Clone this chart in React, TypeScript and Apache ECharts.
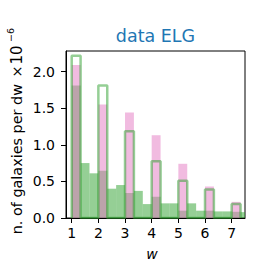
import React, { useEffect, useRef } from "react";
import * as echarts from "echarts";

// Bin edges of the filled histogram (width 1/3)
const binEdges = [
  1, 1.3333, 1.6667, 2, 2.3333, 2.6667, 3, 3.3333, 3.6667, 4, 4.3333, 4.6667,
  5, 5.3333, 5.6667, 6, 6.3333, 6.6667, 7, 7.3333, 7.6667,
];
// Green filled histogram heights (x 10^-6)
const greenFill = [
  1.81, 0.75, 0.61, 0.645, 0.4, 0.45, 0.34, 0.37, 0.19, 0.29, 0.2, 0.2, 0.1,
  0.2, 0.1, 0.1, 0.09, 0.09, 0.085, 0.08,
];
// Discrete w values (pink bars and green outline boxes)
const wValues = [1, 2, 3, 4, 5, 6, 7];
const binWidth = 1 / 3;
const pinkHeights = [2.09, 1.55, 1.44, 1.13, 0.74, 0.43, 0.22];
const boxHeights = [2.215, 1.81, 1.185, 0.775, 0.51, 0.39, 0.19];

const xTicks = [1, 2, 3, 4, 5, 6, 7];
const yTicks = [0, 0.5, 1, 1.5, 2];
const xMin = 0.786;
const xMax = 7.5;
const yMin = 0;
const yMax = 2.28;

const FONT = "DejaVu Sans";
const GREEN = "rgba(44,160,44,0.5)";
const PINK = "rgba(227,119,194,0.5)";

function rectRenderer(color: string) {
  return (params: any, api: any) => {
    const x0 = api.value(0);
    const x1 = api.value(1);
    const h = api.value(2);
    const p0 = api.coord([x0, h]);
    const p1 = api.coord([x1, 0]);
    const cs = params.coordSys;
    const left = Math.max(p0[0], cs.x);
    const right = Math.min(p1[0], cs.x + cs.width);
    return {
      type: "rect",
      shape: { x: left, y: p0[1], width: right - left, height: p1[1] - p0[1] },
      style: { fill: color },
    };
  };
}

function vText(text: string, x: number, y: number, size: number, align = "left") {
  return {
    type: "text",
    x,
    y,
    rotation: Math.PI / 2,
    style: {
      text,
      fill: "#000",
      font: `${size}px "${FONT}"`,
      textAlign: align,
      textVerticalAlign: "middle",
    },
  };
}

export default function App() {
  const ref = useRef<HTMLDivElement>(null);
  useEffect(() => {
    if (!ref.current) return;
    const chart = echarts.init(ref.current, null, { renderer: "svg" });

    const greenData = greenFill.map((h, i) => [binEdges[i], binEdges[i + 1], h]);
    const pinkData = wValues.map((w, i) => [w, w + binWidth, pinkHeights[i]]);
    const stepData: number[][] = [];
    wValues.forEach((w, i) => {
      stepData.push([w, 0], [w, boxHeights[i]], [w + binWidth, boxHeights[i]], [w + binWidth, 0]);
    });

    chart.setOption({
      animation: false,
      backgroundColor: "#fff",
      grid: {
        left: 66,
        top: 51,
        width: 179,
        height: 167,
        show: true,
        borderColor: "#000",
        borderWidth: 1,
        backgroundColor: "transparent",
      },
      xAxis: {
        type: "value",
        min: xMin,
        max: xMax,
        splitLine: { show: false },
        axisLine: { show: true, lineStyle: { color: "#000", width: 1 } },
        axisTick: {
          show: true,
          customValues: xTicks,
          length: 5,
          inside: false,
          lineStyle: { color: "#000", width: 1 },
        },
        axisLabel: {
          customValues: xTicks,
          fontFamily: FONT,
          fontSize: 14,
          color: "#000",
          margin: 8,
          formatter: (v: number) => String(v),
        },
      },
      yAxis: {
        type: "value",
        min: yMin,
        max: yMax,
        splitLine: { show: false },
        axisLine: { show: true, lineStyle: { color: "#000", width: 1 } },
        axisTick: {
          show: true,
          customValues: yTicks,
          length: 5,
          inside: false,
          lineStyle: { color: "#000", width: 1 },
        },
        axisLabel: {
          customValues: yTicks,
          fontFamily: FONT,
          fontSize: 14,
          color: "#000",
          margin: 11,
          formatter: (v: number) => v.toFixed(1),
        },
      },
      series: [
        {
          type: "custom",
          name: "fill",
          z: 2,
          renderItem: rectRenderer(GREEN),
          data: greenData,
          encode: { x: [0, 1], y: 2 },
        },
        {
          type: "custom",
          name: "pink",
          z: 3,
          renderItem: rectRenderer(PINK),
          data: pinkData,
          encode: { x: [0, 1], y: 2 },
        },
        {
          type: "line",
          name: "box",
          z: 4,
          data: stepData,
          showSymbol: false,
          symbol: "none",
          clip: true,
          lineStyle: { color: GREEN, width: 2.5 },
        },
      ],
      graphic: [
        {
          type: "text",
          x: 155.5,
          y: 35.5,
          style: {
            text: "data ELG",
            fill: "#1f77b4",
            font: `17.5px "${FONT}"`,
            textAlign: "center",
            textVerticalAlign: "middle",
          },
        },
        vText("n. of galaxies per dw", 16.7, 234.3, 14.4),
        vText("\u00d7", 16.7, 71.5, 14.4, "center"),
        vText("10", 16.7, 64.5, 15),
        vText("\u22126", 10.6, 42, 9.5),
        {
          type: "text",
          x: 152,
          y: 253.5,
          style: {
            text: "w",
            fill: "#000",
            font: `italic 14px "${FONT}"`,
            textAlign: "center",
            textVerticalAlign: "middle",
          },
        },
      ],
    });
    return () => chart.dispose();
  }, []);
  return (
    <div
      ref={ref}
      style={{ position: "absolute", left: 0, top: 0, width: 266, height: 266 }}
    />
  );
}
